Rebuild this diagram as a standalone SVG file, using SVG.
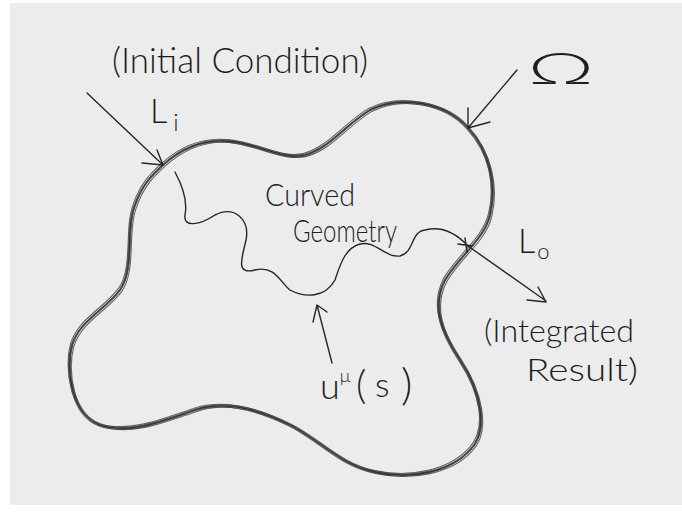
<svg xmlns="http://www.w3.org/2000/svg" width="682" height="516" viewBox="0 0 682 516">
<defs>
<style>
.ink{fill:none;stroke:#262626;stroke-width:1.4;stroke-linecap:round;stroke-linejoin:round}
.rim{fill:none;stroke:#2e2e2e;stroke-width:1.8;stroke-linecap:round;stroke-linejoin:round}
.rim2{fill:none;stroke:#4a4a4a;stroke-width:1.1;opacity:0.85}
.hand{font-family:Lato,"Open Sans","DejaVu Sans",sans-serif;font-weight:300;fill:#1e1e1e}
</style>
<path id="blob" d="M163,165 C185,145 210,138 235,142 C265,147 285,160 305,155 C330,148 345,125 370,110 C400,95 445,102 468,128 C490,152 497,185 490,215 C484,240 460,255 445,280 C432,305 440,330 460,360 C480,390 490,430 470,450 C450,472 410,480 375,472 C340,465 320,440 290,425 C260,410 225,400 195,410 C165,420 130,435 100,425 C72,415 65,370 72,345 C80,320 105,310 120,290 C135,268 125,230 135,205 C142,185 152,175 163,165 Z"/>
</defs>
<rect width="682" height="516" fill="#ffffff"/>
<rect x="10" y="3" width="672" height="502" fill="#ececec"/>

<g id="region-omega">
<use href="#blob" class="rim"/>
<use href="#blob" class="rim2" transform="translate(1.8,1.4)"/>
<use href="#blob" class="rim2" transform="translate(-1.4,-1.6)"/>
<use href="#blob" class="rim2" transform="translate(0.8,-1.0)"/>
<use href="#blob" class="rim2" transform="translate(-0.9,1.1)"/>
</g>

<g id="curved-geometry">
<path class="ink" d="M175,172 C182,185 188,200 185,215 C183,228 200,225 215,215 C235,205 250,220 246,240 C242,258 235,275 255,270 C275,265 280,282 290,290 C305,298 325,298 335,280 C340,265 345,248 360,244 C375,240 385,258 400,256 C415,252 410,232 425,230 C440,226 455,232 468,246"/>
<text class="hand" x="265" y="206" font-size="31" textLength="90" lengthAdjust="spacingAndGlyphs">Curved</text>
<text class="hand" x="293" y="242" font-size="31" textLength="104" lengthAdjust="spacingAndGlyphs">Geometry</text>
</g>

<g id="connectors">
<path class="ink" d="M87,93 L163,165 M157,150 L163,165 L142,163"/>
<path class="ink" d="M517,70 L468,128 M468,108 L468,128 L490,122"/>
<path class="ink" d="M468,246 L546,301 M538,287 L546,302 L527,300"/>
<path class="ink" d="M458,244 L472,246 M465,238 L467,252"/>
<path class="ink" d="M332,363 L317,305 M313,322 L317,305 L327,312"/>
</g>

<g id="label-initial">
<text class="hand" x="112" y="73" font-size="36" textLength="256" lengthAdjust="spacingAndGlyphs">(Initial Condition)</text>
<text class="hand" x="150" y="123" font-size="34">L<tspan font-size="24" dx="6" dy="8" fill="#1e1e1e">i</tspan></text>
</g>

<g id="label-omega">
<text class="hand" transform="translate(561,84) scale(1.9,1)" text-anchor="middle" font-size="44" font-weight="200" font-family="'DejaVu Sans',sans-serif">Ω</text>
</g>

<g id="label-output">
<text class="hand" x="518" y="253" font-size="34">L<tspan font-size="22" dx="2" dy="6">o</tspan></text>
<text class="hand" x="484" y="342" font-size="32" textLength="150" lengthAdjust="spacingAndGlyphs">(Integrated</text>
<text class="hand" x="526" y="381" font-size="32" textLength="112" lengthAdjust="spacingAndGlyphs">Result)</text>
</g>

<g id="label-u">
<text class="hand" x="320" y="399" font-size="36">u<tspan font-size="18" dy="-17">μ</tspan><tspan x="356" y="399" font-size="40">(</tspan><tspan x="375" y="397" font-size="34">s</tspan><tspan x="401" y="400" font-size="44">)</tspan></text>
</g>
</svg>
